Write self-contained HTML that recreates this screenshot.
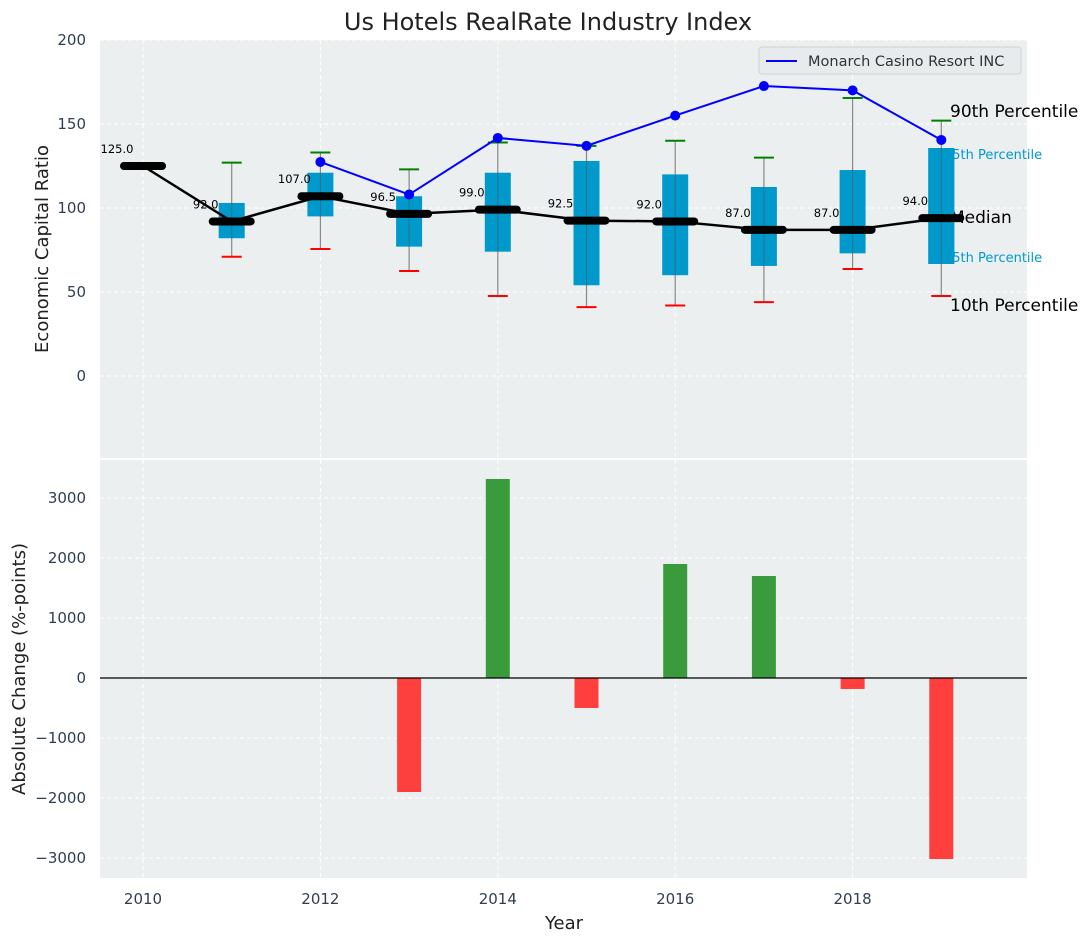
<!DOCTYPE html>
<html><head><meta charset="utf-8"><style>
body{margin:0;background:#fff}
svg text{font-family:"DejaVu Sans","Liberation Sans",sans-serif}
</style></head><body>
<svg id="c" width="1085" height="942" xmlns="http://www.w3.org/2000/svg">
<rect x="100" y="40" width="927" height="418" fill="#ECEFF0"/>
<rect x="100" y="460" width="927" height="418" fill="#ECEFF0"/>
<g id="grid"></g>
<g id="marks"></g>
<text x="548" y="30" font-size="24" text-anchor="middle" fill="#222">Us Hotels RealRate Industry Index</text>
<text transform="translate(48,249) rotate(-90)" font-size="18" text-anchor="middle" fill="#222">Economic Capital Ratio</text>
<text transform="translate(25,669) rotate(-90)" font-size="18" text-anchor="middle" fill="#222">Absolute Change (%-points)</text>
<text x="564" y="929" font-size="18" text-anchor="middle" fill="#222">Year</text>
<g>
<rect x="759" y="47" width="262" height="27" rx="3" fill="#E8EBEE" stroke="#d0d0d0"/>
<line x1="766" y1="61" x2="797" y2="61" stroke="#0000ff" stroke-width="2"/>
<text x="808" y="66" font-size="14.5" fill="#333">Monarch Casino Resort INC</text>
</g>
</svg>
<script>
const years=[2010,2011,2012,2013,2014,2015,2016,2017,2018,2019];
const medians=[125,92,107,96.5,99,92.5,92,87,87,94];
const q25=[null,82,95,77,74,54,60,65.5,73,66.7];
const q75=[null,103,121,107,121,128,120,112.5,122.6,135.7];
const p10=[null,71,75.6,62.5,47.6,41,42,44,63.7,47.6];
const p90=[null,127,133,123,139,137,140,130,165.5,152];
const monarch=[null,null,127.4,108,141.7,137,155,172.6,170,140.5];
const changes=[null,null,null,-1900,3317,-500,1900,1700,-183,-3017];
const topTicks=[0,50,100,150,200];
const botTicks=[-3000,-2000,-1000,0,1000,2000,3000];
const xTicks=[2010,2012,2014,2016,2018];
const NS='http://www.w3.org/2000/svg';
const X=v=>143+(v-2010)*88.7;
const Y1=v=>376-1.68*v;
const Y2=v=>678-0.06*v;
function mk(p,tag,a){const e=document.createElementNS(NS,tag);for(const k in a)e.setAttribute(k,a[k]);p.appendChild(e);return e;}
const svg=document.getElementById('c'),G=document.getElementById('grid'),M=document.getElementById('marks');
topTicks.forEach(t=>{const y=Y1(t);
 const l=mk(G,'line',{x1:100,x2:1027,y1:y,y2:y,stroke:'#fff','stroke-dasharray':'4,3'});
 
 const tx=mk(svg,'text',{x:86,y:y+5,'font-size':15,'text-anchor':'end',fill:'#2f3e52'});tx.textContent=t;
 });
botTicks.forEach(t=>{const y=Y2(t);
 const l=mk(G,'line',{x1:100,x2:1027,y1:y,y2:y,stroke:'#fff','stroke-dasharray':'4,3'});
 
 const tx=mk(svg,'text',{x:86,y:y+5,'font-size':15,'text-anchor':'end',fill:'#2f3e52'});tx.textContent=t<0?'\u2212'+(-t):t;
 });
xTicks.forEach(t=>{const x=X(t);
 [[40,458],[460,878]].forEach(r=>{const l=mk(G,'line',{x1:x,x2:x,y1:r[0],y2:r[1],stroke:'#fff','stroke-dasharray':'4,3'});
 });
 const tx=mk(svg,'text',{x:x,y:904,'font-size':15,'text-anchor':'middle',fill:'#2f3e52'});tx.textContent=t;
 });
years.forEach((yr,i)=>{if(q25[i]==null)return;const x=X(yr);
 const w=mk(M,'line',{x1:x,x2:x,y1:Y1(p90[i]),y2:Y1(p10[i]),stroke:'#888','stroke-width':1.2});
 
 const b=mk(M,'rect',{x:x-13,y:Y1(q75[i]),width:26,height:Y1(q25[i])-Y1(q75[i]),fill:'#0099cc'});
 
 const w2=mk(M,'line',{x1:x,x2:x,y1:Y1(q75[i]),y2:Y1(q25[i]),stroke:'#555','stroke-width':1,opacity:0.6});
 
 const g=mk(M,'line',{x1:x-10,x2:x+10,y1:Y1(p90[i]),y2:Y1(p90[i]),stroke:'green','stroke-width':2});
 
 const r=mk(M,'line',{x1:x-10,x2:x+10,y1:Y1(p10[i]),y2:Y1(p10[i]),stroke:'red','stroke-width':2});
 });
[['90th Percentile',117,17,'#000',950],['75th Percentile',159,13,'#0099cc',944],['Median',223,17,'#000',950],['25th Percentile',262,13,'#0099cc',944],['10th Percentile',311,17,'#000',950]].forEach(a=>{
 const t=mk(svg,'text',{x:a[4],y:a[1],'font-size':a[2],fill:a[3]});t.textContent=a[0];
 });
{const i=9,x=X(years[i]);const b=mk(svg,'rect',{x:x-13,y:Y1(q75[i]),width:26,height:Y1(q25[i])-Y1(q75[i]),fill:'#0099cc'});
 
 const w2=mk(svg,'line',{x1:x,x2:x,y1:Y1(q75[i]),y2:Y1(q25[i]),stroke:'#555','stroke-width':1,opacity:0.6});
 }
const mp=mk(svg,'polyline',{points:years.map((y,i)=>X(y)+','+Y1(medians[i])).join(' '),fill:'none',stroke:'#000','stroke-width':2.5});

years.forEach((yr,i)=>{const x=X(yr),y=Y1(medians[i]);
 const l=mk(svg,'line',{x1:x-19,x2:x+19,y1:y,y2:y,stroke:'#000','stroke-width':8,'stroke-linecap':'round'});
 
 const t=mk(svg,'text',{x:x-26,y:y-13,'font-size':11.5,'text-anchor':'middle',fill:'#000'});t.textContent=medians[i].toFixed(1);
 });
const pts=[];years.forEach((y,i)=>{if(monarch[i]!=null)pts.push(X(y)+','+Y1(monarch[i]));});
const ml=mk(svg,'polyline',{points:pts.join(' '),fill:'none',stroke:'#0000ff','stroke-width':2});

years.forEach((yr,i)=>{if(monarch[i]==null)return;const c=mk(svg,'circle',{cx:X(yr),cy:Y1(monarch[i]),r:5,fill:'#0000ff'});
 });
years.forEach((yr,i)=>{if(changes[i]==null)return;const v=changes[i];const y0=Y2(0),y1=Y2(v);
 const b=mk(svg,'rect',{x:X(yr)-12,y:Math.min(y0,y1),width:24,height:Math.abs(y1-y0),fill:v>=0?'#3a9b3d':'#ff3e3e'});
 });
const z=mk(svg,'line',{x1:100,x2:1027,y1:Y2(0),y2:Y2(0),stroke:'#000','stroke-width':1.2});

</script>
</body></html>
